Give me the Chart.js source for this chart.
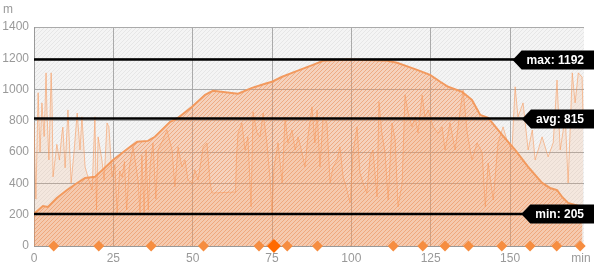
<!DOCTYPE html>
<html>
<head>
<meta charset="utf-8">
<script src="https://cdn.jsdelivr.net/npm/chart.js@4/dist/chart.umd.min.js"></script>
<style>
  body { margin: 0; background: #fff; }
  canvas { display: block; }
</style>
</head>
<body>
<canvas id="profile" width="595" height="269"></canvas>
<script>
// elevation profile (minutes, metres)
const elevT = [0, 2.8, 4.4, 7.2, 10.4, 13.6, 16.1, 19.2, 24.9, 30.3, 32.5, 35.9, 38.1, 42.9, 45.4, 49.8,
  53.9, 56.4, 64.3, 68.7, 72.8, 75.0, 78.2, 81.3, 85.4, 87.9, 91.1, 99.6, 111.3, 114.4, 120.7, 124.8,
  128.0, 130.5, 134.9, 138.0, 140.6, 143.1, 147.5, 151.6, 155.7, 160.1, 162.6, 164.8, 166.4, 168.3, 172.7];
const elevM = [205, 256, 250, 307, 358, 403, 435, 442, 550, 634, 666, 672, 698, 794, 819, 890,
  966, 992, 973, 1011, 1037, 1050, 1082, 1107, 1139, 1158, 1184, 1192, 1184, 1171, 1126, 1094,
  1050, 1018, 986, 934, 838, 819, 710, 614, 506, 403, 371, 358, 314, 275, 250];

// the noisy second trace
const noiseT = [0, 0.6, 1.3, 1.9, 2.5, 3.2, 3.8, 4.1, 4.7, 5.4, 5.7, 6.0, 7.2, 8.0, 8.8, 9.1, 9.8, 10.7,
  11.7, 12.6, 13.6, 14.5, 15.1, 16.1, 17.0, 18.3, 19.2, 19.7, 20.2, 21.4, 22.1, 23.0, 23.6, 24.6, 25.5,
  26.2, 27.0, 27.8, 28.5, 29.2, 30.0, 31.2, 32.8, 33.4, 34.0, 34.7, 35.3, 36.0, 36.6, 37.5, 38.4, 39.1,
  40.6, 41.9, 43.5, 44.4, 45.4, 46.6, 47.6, 48.5, 49.8, 50.7, 51.7, 53.3, 54.5, 55.5, 56.1, 63.5, 63.8,
  64.3, 65.5, 66.5, 67.4, 68.4, 69.0, 70.3, 71.2, 72.2, 73.4, 74.4, 75.0, 75.6, 76.9, 78.2, 79.1, 80.0,
  81.3, 82.3, 83.2, 84.4, 85.4, 86.3, 87.6, 88.5, 89.2, 90.1, 91.1, 92.3, 93.3, 94.2, 95.5, 96.4, 97.4,
  98.6, 99.6, 100.5, 101.8, 102.7, 103.7, 104.9, 105.9, 106.8, 108.1, 108.7, 109.6, 110.6, 111.6, 112.8,
  113.8, 114.7, 116.0, 116.9, 117.9, 119.1, 120.1, 121.0, 122.3, 123.2, 124.2, 125.8, 127.3, 128.6,
  129.5, 131.1, 132.7, 134.3, 135.2, 136.5, 138.0, 139.6, 141.2, 142.2, 143.1, 144.7, 146.2, 147.8,
  149.0, 150.6, 151.6, 152.5, 154.1, 155.7, 157.0, 157.9, 160.1, 162.0, 163.6, 164.8, 165.8, 167.4,
  168.3, 169.6, 170.5, 171.5, 172.7, 173.0];
const noiseV = [790, 300, 980, 600, 915, 700, 1107, 850, 550, 1107, 900, 442, 650, 550, 720, 760, 500, 870,
  403, 600, 850, 614, 826, 505, 442, 358, 826, 230, 698, 550, 420, 787, 762, 442, 520,
  211, 480, 440, 540, 230, 500, 634, 420, 211, 580, 214, 614, 230, 520, 659, 300, 614,
  678, 742, 614, 378, 634, 505, 550, 422, 403, 486, 422, 634, 659, 403, 339, 345, 570,
  723, 787, 614, 698, 250, 858, 723, 698, 850, 659, 422, 211, 500, 659, 403, 826, 659,
  742, 614, 698, 600, 505, 698, 890, 659, 870, 505, 826, 787, 403, 505, 550, 634, 442,
  358, 275, 595, 762, 467, 403, 339, 570, 614, 314, 922, 723, 600, 294, 787,
  678, 250, 403, 966, 850, 762, 826, 723, 966, 826, 870, 762, 720, 762,
  614, 787, 614, 870, 998, 723, 550, 659, 600, 250, 531, 294, 659, 762,
  678, 614, 1018, 826, 915, 614, 742, 550, 698, 570, 660, 1061, 614, 826,
  403, 1107, 915, 1107, 1080, 826];

// waypoint markers along the bottom
const markerT = [6.2, 20.4, 36.9, 53.4, 70.9, 79.8, 89.3, 113.2, 122.5, 129.5, 136.9, 147.4, 156.3, 164.7, 172.1];
const activeMarkerT = [75.6];

const statNames = ['max', 'avg', 'min'];
const statValues = [1192, 815, 205];

const yTicks = [0, 200, 400, 600, 800, 1000, 1200, 1400];
const xTicks = [0, 25, 50, 75, 100, 125, 150];
const xEnd = 173.3;

function stripes(base, line, size) {
    const c = document.createElement('canvas');
    c.width = size; c.height = size;
    const g = c.getContext('2d');
    g.fillStyle = base;
    g.fillRect(0, 0, size, size);
    g.strokeStyle = line;
    g.lineWidth = 1;
    g.beginPath();
    g.moveTo(-1, size + 1); g.lineTo(size + 1, -1);
    g.moveTo(-1, 1); g.lineTo(1, -1);
    g.moveTo(size - 1, size + 1); g.lineTo(size + 1, size - 1);
    g.stroke();
    return g.createPattern(c, 'repeat');
}

const ctx0 = document.getElementById('profile').getContext('2d');
const bgPattern = stripes('#f4f4f4', '#e6e6e6', 4);
const elevPattern = stripes('rgba(247,150,92,0.36)', 'rgba(240,135,75,0.46)', 4);

const areaBg = {
    id: 'areaBg',
    beforeDraw(chart) {
        const {ctx, chartArea: a} = chart;
        ctx.save();
        ctx.fillStyle = bgPattern;
        ctx.fillRect(a.left, a.top, a.right - a.left, a.bottom - a.top);
        ctx.restore();
    }
};

const statLabels = {
    id: 'statLabels',
    afterDraw(chart) {
        const {ctx, chartArea: a} = chart;
        const y = chart.scales.y;
        ctx.save();
        ctx.font = 'bold 12px "Liberation Sans", Arial, sans-serif';
        ctx.textBaseline = 'middle';
        statNames.forEach((name, i) => {
            const py = Math.round(y.getPixelForValue(statValues[i]));
            const txt = name + ': ' + statValues[i];
            const w = ctx.measureText(txt).width;
            const right = 594;
            const textLeft = a.right - w;
            const bodyLeft = textLeft - 5;
            ctx.fillStyle = '#000';
            ctx.beginPath();
            ctx.moveTo(bodyLeft - 9, py);
            ctx.lineTo(bodyLeft, py - 9.5);
            ctx.lineTo(right, py - 9.5);
            ctx.lineTo(right, py + 9.5);
            ctx.lineTo(bodyLeft, py + 9.5);
            ctx.closePath();
            ctx.fill();
            ctx.fillStyle = '#fff';
            ctx.fillText(txt, textLeft, py + 0.5);
        });
        ctx.font = '12px "Liberation Sans", Arial, sans-serif';
        ctx.fillStyle = '#999';
        ctx.textAlign = 'center';
        ctx.fillText('m', 8, 10);
        ctx.fillText('min', 581, chart.scales.x.top + 13);
        ctx.restore();
    }
};

const statSets = statNames.map((name, i) => ({
    type: 'line',
    label: name,
    data: [{x: 0, y: statValues[i]}, {x: xEnd, y: statValues[i]}],
    borderColor: '#000',
    borderWidth: 2.5,
    pointRadius: 0,
    fill: false,
    order: 1,
}));

new Chart(ctx0, {
    type: 'line',
    plugins: [areaBg, statLabels],
    data: {
        datasets: [
            {
                label: 'elevation',
                data: elevT.map((t, i) => ({x: t, y: elevM[i]})),
                borderColor: '#f29a5f',
                borderWidth: 2,
                backgroundColor: elevPattern,
                fill: 'origin',
                pointRadius: 0,
                tension: 0,
                order: 3,
            },
            {
                label: 'trace',
                data: noiseT.map((t, i) => ({x: t, y: noiseV[i]})),
                borderColor: 'rgba(247,150,85,0.55)',
                borderWidth: 1,
                backgroundColor: 'rgba(250,155,95,0.14)',
                fill: 'origin',
                pointRadius: 0,
                tension: 0,
                order: 2,
            },
            ...statSets,
            {
                type: 'scatter',
                label: 'markers',
                data: markerT.map(t => ({x: t, y: 0})),
                pointStyle: 'rectRot',
                pointRadius: 5.5,
                pointBorderWidth: 0,
                pointBackgroundColor: '#f68d40',
                clip: false,
                order: 0,
            },
            {
                type: 'scatter',
                label: 'active',
                data: activeMarkerT.map(t => ({x: t, y: 0})),
                pointStyle: 'rectRot',
                pointRadius: 7,
                pointBorderWidth: 0,
                pointBackgroundColor: '#ff6a00',
                clip: false,
                order: 0,
            },
        ]
    },
    options: {
        responsive: false,
        animation: false,
        events: [],
        layout: { padding: { top: 27, right: 11, left: 0, bottom: 0 } },
        plugins: { legend: { display: false }, tooltip: { enabled: false } },
        scales: {
            x: {
                type: 'linear',
                min: 0,
                max: xEnd,
                afterFit: s => { s.height = 23; },
                afterBuildTicks: s => { s.ticks = xTicks.map(v => ({value: v})); },
                grid: { color: '#aaa', drawTicks: false },
                border: { color: '#999' },
                ticks: {
                    color: '#999',
                    padding: 5,
                    callback: v => String(v),
                    font: { family: '"Liberation Sans", Arial, sans-serif', size: 12 },
                },
            },
            y: {
                min: 0,
                max: 1400,
                afterFit: s => { s.width = 34; },
                afterBuildTicks: s => { s.ticks = yTicks.map(v => ({value: v})); },
                grid: { color: '#aaa', drawTicks: false },
                border: { color: '#999' },
                ticks: {
                    color: '#999',
                    padding: 5,
                    callback: v => String(v),
                    font: { family: '"Liberation Sans", Arial, sans-serif', size: 12 },
                },
            },
        },
    },
});
</script>
</body>
</html>
